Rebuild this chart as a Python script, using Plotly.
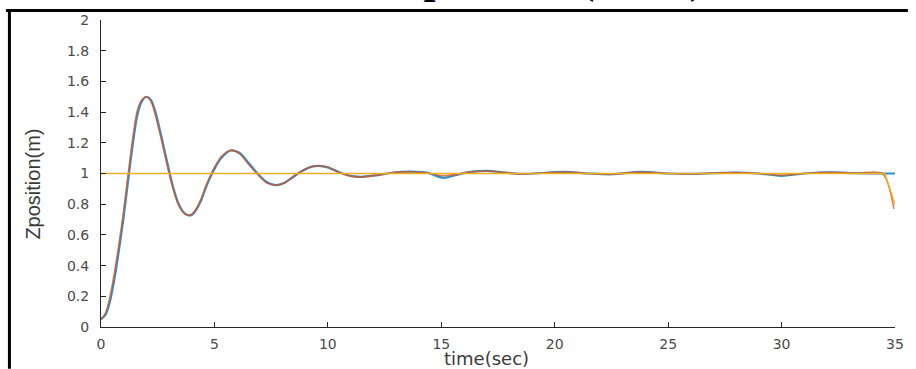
import plotly.graph_objects as go

# ---- data ----
time_s = [0, 0.2, 0.4, 0.6, 0.8, 1.0, 1.2, 1.4, 1.6, 1.8, 2.0, 2.2, 2.4, 2.6, 2.8,
          3.0, 3.2, 3.4, 3.6, 3.8, 4.0, 4.2, 4.4, 4.6, 4.8, 5.0, 5.3, 5.7, 6.1, 6.5,
          6.9, 7.3, 7.7, 8.1, 8.5, 8.9, 9.3, 9.6, 10.0, 10.5, 11.0, 11.5, 12.2, 13.0,
          13.7, 14.4, 15.1, 15.8, 16.4, 17.0, 17.7, 18.5, 19.3, 20.4, 21.5, 22.5,
          23.8, 25.0, 26.2, 27.9, 29.0, 30.0, 31.0, 32.2, 33.3, 34.45, 34.95, 35.0]

z_blue = [0.05, 0.08, 0.17, 0.32, 0.51, 0.72, 0.96, 1.19, 1.38, 1.47, 1.50, 1.48,
          1.40, 1.28, 1.15, 1.02, 0.90, 0.81, 0.755, 0.73, 0.73, 0.765, 0.82, 0.90,
          0.97, 1.03, 1.10, 1.15, 1.135, 1.07, 1.00, 0.945, 0.924, 0.94, 0.98, 1.02,
          1.045, 1.05, 1.04, 1.008, 0.985, 0.978, 0.99, 1.008, 1.012, 1.004, 0.972,
          0.996, 1.012, 1.017, 1.008, 0.997, 1.002, 1.010, 1.000, 0.995, 1.010,
          1.000, 0.998, 1.006, 1.000, 0.985, 1.000, 1.008, 1.002, 1.000, 1.000, 1.000]

z_red = [0.05, 0.09, 0.20, 0.36, 0.55, 0.76, 1.00, 1.23, 1.41, 1.48, 1.50, 1.47,
         1.38, 1.26, 1.13, 1.00, 0.89, 0.80, 0.75, 0.73, 0.735, 0.77, 0.83, 0.91,
         0.98, 1.04, 1.11, 1.15, 1.13, 1.06, 0.995, 0.94, 0.925, 0.94, 0.985, 1.02,
         1.045, 1.05, 1.04, 1.005, 0.983, 0.978, 0.99, 1.008, 1.010, 1.003, 0.985,
         0.998, 1.012, 1.016, 1.008, 0.997, 1.002, 1.010, 1.000, 0.995, 1.010,
         1.000, 0.998, 1.006, 1.000, 0.988, 1.000, 1.008, 1.002, 1.000, 0.77, None]

ref_time = [0, 34.55, 35.0]
ref_z = [1.0, 1.0, 0.80]

x_ticks = [0, 5, 10, 15, 20, 25, 30, 35]
y_ticks = [0, 0.2, 0.4, 0.6, 0.8, 1.0, 1.2, 1.4, 1.6, 1.8, 2.0]
y_tick_text = ["0", "0.2", "0.4", "0.6", "0.8", "1", "1.2", "1.4", "1.6", "1.8", "2"]

title_text = "Z position (SMC)"
x_title = "time(sec)"
y_title = "Zposition(m)"

# ---- figure ----
W, H = 916, 369
ML, MR, MT, MB = 101, 13, 18, 42
PW, PH = W - ML - MR, H - MT - MB


def px_x(px):
    return (px - ML) / PW


def px_y(py):
    return (H - MB - py) / PH


fig = go.Figure()
fig.add_trace(go.Scatter(x=time_s, y=z_blue, mode="lines",
                         line=dict(color="#0072BD", width=2.2, shape="spline", smoothing=0.8),
                         opacity=0.8, showlegend=False))
fig.add_trace(go.Scatter(x=time_s, y=z_red, mode="lines",
                         line=dict(color="#D95319", width=1.6, shape="spline", smoothing=0.8),
                         opacity=0.75, showlegend=False, connectgaps=False))
fig.add_trace(go.Scatter(x=ref_time, y=ref_z, mode="lines",
                         line=dict(color="#EDB120", width=1.3),
                         showlegend=False))

axis_font = dict(family="DejaVu Sans, Arial, sans-serif", size=14, color="#4a4a4a")

fig.update_xaxes(range=[0, 35], tickvals=x_ticks, ticktext=[str(v) for v in x_ticks],
                 showgrid=False, zeroline=False, showline=True, linecolor="#262626",
                 linewidth=1, ticks="inside", ticklen=5, tickcolor="#262626",
                 tickfont=axis_font, ticklabelstandoff=4)
fig.update_yaxes(range=[0, 2], tickvals=y_ticks, ticktext=y_tick_text,
                 showgrid=False, zeroline=False, showline=True, linecolor="#262626",
                 linewidth=1, ticks="inside", ticklen=5, tickcolor="#262626",
                 tickfont=axis_font, ticklabelstandoff=8)

fig.update_layout(
    width=W, height=H,
    margin=dict(l=ML, r=MR, t=MT, b=MB),
    paper_bgcolor="white", plot_bgcolor="white",
    annotations=[
        dict(text="<b>" + title_text + "</b>", x=px_x(711), y=px_y(1.5),
             xref="paper", yref="paper", xanchor="right", yanchor="bottom",
             showarrow=False, borderpad=0,
             font=dict(family="Liberation Serif, Times New Roman, serif", size=43, color="black")),
        dict(text=x_title, x=px_x(490), y=px_y(359), xref="paper", yref="paper",
             xanchor="center", yanchor="middle", showarrow=False,
             font=dict(family="DejaVu Sans, Arial, sans-serif", size=18, color="#3a3a3a")),
        dict(text=y_title, x=px_x(32), y=px_y(183), xref="paper", yref="paper",
             xanchor="center", yanchor="middle", textangle=-90, showarrow=False,
             font=dict(family="Liberation Sans, Arial, sans-serif", size=20, color="#3a3a3a")),
    ],
    shapes=[
        dict(type="line", xref="paper", yref="paper", x0=px_x(5), x1=px_x(916),
             y0=px_y(8.5), y1=px_y(8.5), line=dict(color="black", width=3)),
        dict(type="line", xref="paper", yref="paper", x0=px_x(8.5), x1=px_x(8.5),
             y0=px_y(369), y1=px_y(7), line=dict(color="black", width=3)),
    ],
)

fig.write_html("out.html", config={"displayModeBar": False},
               post_script="document.body.style.margin='0';")
